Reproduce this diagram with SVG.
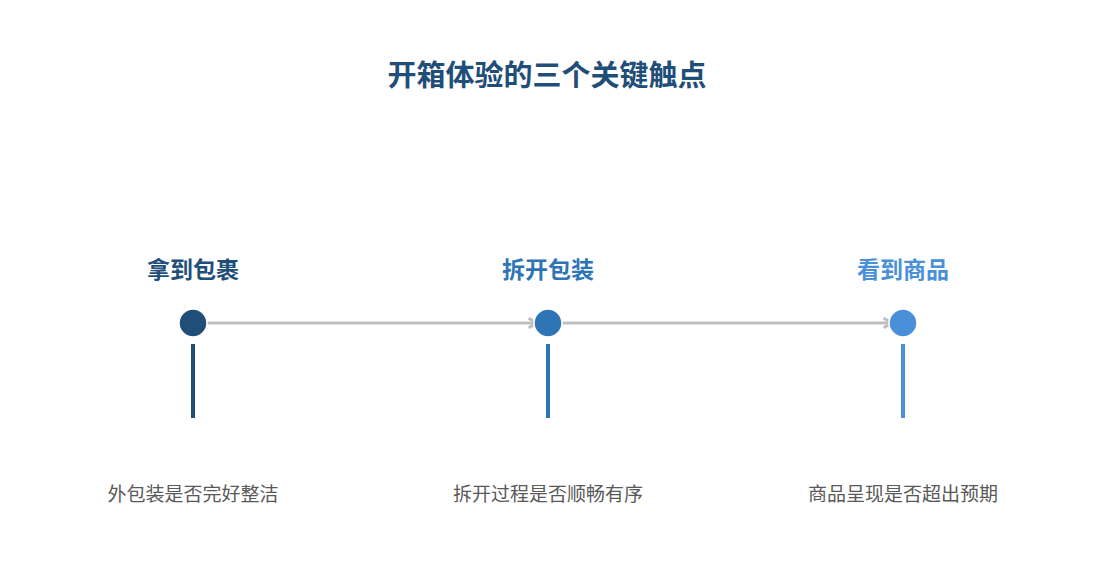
<svg xmlns="http://www.w3.org/2000/svg" width="1095" height="585" viewBox="0 0 1095 585">
<style>
.t{font-family:"Noto Sans CJK SC","Liberation Sans",sans-serif;text-anchor:middle}
.title{font-size:29px;font-weight:bold;fill:#1F4E79}
.lab{font-size:23px;font-weight:bold}
.desc{font-size:19px;fill:#595959}
.conn{stroke:#BFBFBF;stroke-width:3;fill:none}
.dot{stroke:#fff;stroke-width:1.5}
.stem{stroke-width:4}
</style>
<defs>
<marker id="arr" viewBox="0 0 10 10" refX="8" refY="5" markerWidth="4" markerHeight="4" orient="auto" markerUnits="strokeWidth">
<path d="M1,1 L8,5 L1,9" fill="none" stroke="#BFBFBF" stroke-width="2.5"/>
</marker>
</defs>
<rect width="1095" height="585" fill="#fff"/>
<text class="t title" x="547" y="86">开箱体验的三个关键触点</text>
<g id="connectors">
<line class="conn" x1="207" y1="323" x2="537" y2="323" marker-end="url(#arr)"/>
<line class="conn" x1="562" y1="323" x2="892" y2="323" marker-end="url(#arr)"/>
</g>
<g id="node1">
<text class="t lab" x="193" y="278" fill="#1F4E79">拿到包裹</text>
<circle class="dot" cx="193" cy="323" r="14" fill="#1F4E79"/>
<line class="stem" x1="193" y1="344" x2="193" y2="418" stroke="#1F4E79"/>
<text class="t desc" x="193" y="501">外包装是否完好整洁</text>
</g>
<g id="node2">
<text class="t lab" x="548" y="278" fill="#2E75B6">拆开包装</text>
<circle class="dot" cx="548" cy="323" r="14" fill="#2E75B6"/>
<line class="stem" x1="548" y1="344" x2="548" y2="418" stroke="#2E75B6"/>
<text class="t desc" x="548" y="501">拆开过程是否顺畅有序</text>
</g>
<g id="node3">
<text class="t lab" x="903" y="278" fill="#4A90D9">看到商品</text>
<circle class="dot" cx="903" cy="323" r="14" fill="#4A90D9"/>
<line class="stem" x1="903" y1="344" x2="903" y2="418" stroke="#4A90D9"/>
<text class="t desc" x="903" y="501">商品呈现是否超出预期</text>
</g>
</svg>
